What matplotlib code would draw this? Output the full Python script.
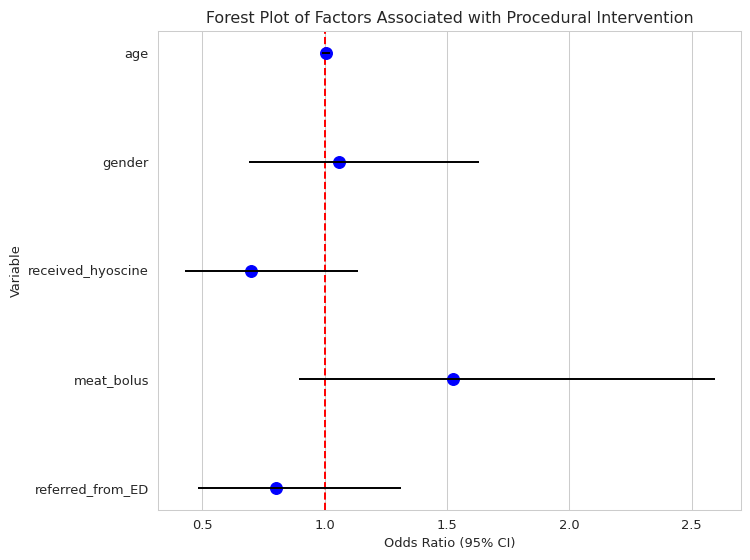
import numpy as np
import matplotlib
matplotlib.use("Agg")
import matplotlib.pyplot as plt
import seaborn as sns

# odds ratios with 95% CI
variables = ['age', 'gender', 'received_hyoscine', 'meat_bolus', 'referred_from_ED']
odds_ratio = [1.005, 1.06, 0.70, 1.523, 0.80]
ci_lower = [0.99, 0.69, 0.427, 0.894, 0.481]
ci_upper = [1.02, 1.631, 1.137, 2.593, 1.312]

sns.set_style("whitegrid")

DPI = 93.75
fig, ax = plt.subplots(figsize=(750 / DPI, 560 / DPI), dpi=DPI)

y = np.arange(len(variables))
or_arr = np.array(odds_ratio)
err = [or_arr - np.array(ci_lower), np.array(ci_upper) - or_arr]

ax.scatter(or_arr, y, s=80, color='blue', zorder=2)
ax.errorbar(or_arr, y, xerr=err, fmt='none', ecolor='black', elinewidth=1.5, capsize=0, zorder=3)
ax.axvline(1, color='red', linestyle='--', linewidth=1.5, zorder=1)

ax.set_yticks(y)
ax.set_yticklabels(variables)
ax.invert_yaxis()
ax.grid(axis='y', visible=False)
ax.tick_params(labelsize=10)

ax.set_xlabel('Odds Ratio (95% CI)', fontsize=10)
ax.set_ylabel('Variable', fontsize=10)
ax.set_title('Forest Plot of Factors Associated with Procedural Intervention', fontsize=12.2)

fig.subplots_adjust(left=158 / 750, right=741 / 750, top=1 - 31 / 560, bottom=1 - 510 / 560)
fig.savefig('out.png', dpi=DPI)
